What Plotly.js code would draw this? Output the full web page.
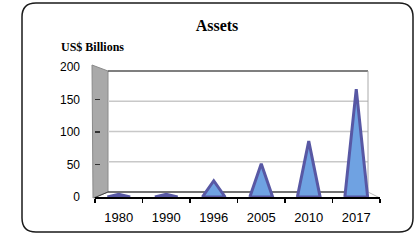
<!DOCTYPE html>
<html>
<head>
<meta charset="utf-8">
<script src="https://cdn.plot.ly/plotly-3.0.1.min.js"></script>
<style>html,body{margin:0;padding:0;background:#fff;}#chart{width:419px;height:241px;}</style>
</head>
<body>
<div id="chart"></div>
<script>
// Data
const years = ['1980', '1990', '1996', '2005', '2010', '2017'];
const assets = [4, 4, 25, 51, 86, 166];
const yTicks = [0, 50, 100, 150, 200];

// Plot-area frame in pixels (styling only)
const L = 95, R = 380, T = 67, B = 197;
const px = x => (x - L) / (R - L);
const py = y => (B - y) / (B - T);

const halfW = 0.24;
const traces = years.map((yr, i) => ({
  type: 'scatter',
  mode: 'lines',
  x: [i - halfW, i, i + halfW, i - halfW],
  y: [0, assets[i], 0, 0],
  fill: 'toself',
  fillcolor: '#6fa2e2',
  line: {color: '#5858a4', width: 3},
  hoverinfo: 'skip',
  showlegend: false
}));
// invisible trace to activate y2
traces.push({type:'scatter', x:[0], y:[0], yaxis:'y2', mode:'markers', marker:{opacity:0}, showlegend:false, hoverinfo:'skip'});

function roundRect(x0, y0, x1, y1, r) {
  const rx = r / (R - L), ry = r / (B - T);
  const a = px(x0), b = px(x1), top = py(y0), bot = py(y1);
  return `M ${a + rx},${top} L ${b - rx},${top} Q ${b},${top} ${b},${top - ry} ` +
         `L ${b},${bot + ry} Q ${b},${bot} ${b - rx},${bot} L ${a + rx},${bot} ` +
         `Q ${a},${bot} ${a},${bot + ry} L ${a},${top - ry} Q ${a},${top} ${a + rx},${top} Z`;
}

const shapes = [];
// outer rounded frame
shapes.push({type:'path', xref:'paper', yref:'paper', path: roundRect(22, 3, 413, 232, 14),
  line:{color:'#1a1a1a', width:1.5}, layer:'below'});
// left gray wall
shapes.push({type:'path', xref:'paper', yref:'paper',
  path:`M ${px(92)},${py(65)} L ${px(108)},${py(71)} L ${px(108)},${py(192)} L ${px(93)},${py(198)} Z`,
  fillcolor:'#a9a9a9', line:{color:'#8a8a8a', width:1}, layer:'below'});
// back-wall gridlines
[50, 100, 150].forEach(v => shapes.push({type:'line', xref:'paper', yref:'y2',
  x0: px(108), x1: px(368), y0: v, y1: v, line:{color:'#c8c8c8', width:1.5}, layer:'below'}));
// back-wall top line
shapes.push({type:'line', xref:'paper', yref:'y2', x0:px(108), x1:px(368), y0:200, y1:200,
  line:{color:'#555', width:1.5}, layer:'below'});
// right edge of back wall
shapes.push({type:'line', xref:'paper', yref:'y2', x0:px(368), x1:px(368), y0:0, y1:200,
  line:{color:'#aaa', width:1}, layer:'below'});
// back floor line
shapes.push({type:'line', xref:'paper', yref:'y2', x0:px(108), x1:px(368), y0:0, y1:0,
  line:{color:'#444', width:1.5}, layer:'below'});
// floor side edges
shapes.push({type:'line', xref:'paper', yref:'paper', x0:px(368), y0:py(192), x1:px(380), y1:py(198),
  line:{color:'#bbb', width:1}, layer:'below'});
shapes.push({type:'line', xref:'paper', yref:'paper', x0:px(108), y0:py(192), x1:px(94), y1:py(198),
  line:{color:'#444', width:1}, layer:'below'});

const layout = {
  width: 419, height: 241,
  margin: {l: L, r: 419 - R, t: T, b: 241 - B},
  paper_bgcolor: '#fff', plot_bgcolor: 'rgba(0,0,0,0)',
  showlegend: false,
  title: {text: '<b>Assets</b>', font: {family: 'Liberation Serif', size: 16, color: '#000'},
    xref: 'container', x: 217 / 419, xanchor: 'center', yref: 'container', y: 1 - 25 / 241, yanchor: 'middle'},
  xaxis: {
    range: [-0.5, 5.5], tickmode: 'array', tickvals: years.map((_, i) => i), ticktext: years,
    showgrid: false, zeroline: false, showline: true, linecolor: '#000', linewidth: 1.5,
    ticks: 'outside', ticklen: 4, tickcolor: 'rgba(0,0,0,0)',
    minor: {tick0: -0.5, dtick: 1, ticks: 'outside', ticklen: 4, tickcolor: '#000', tickwidth: 1.5, showgrid: false},
    tickfont: {family: 'Liberation Sans', size: 13, color: '#000'}, ticklabelstandoff: 4,
    fixedrange: true
  },
  yaxis: {
    range: [0, 200], tickmode: 'array', tickvals: yTicks,
    showgrid: false, zeroline: false, showline: false,
    ticks: 'inside', ticklen: 5, tickcolor: '#333', tickwidth: 1.5,
    tickfont: {family: 'Liberation Sans', size: 12, color: '#000'}, ticklabelstandoff: 14,
    fixedrange: true
  },
  yaxis2: {overlaying: 'y', range: [-8.3, 206.7], showgrid: false, zeroline: false,
    showticklabels: false, ticks: '', showline: false, fixedrange: true},
  shapes: shapes,
  annotations: [{text: '<b>US$ Billions</b>', xref: 'paper', yref: 'paper', x: px(59), y: py(47),
    xanchor: 'left', yanchor: 'middle', showarrow: false,
    font: {family: 'Liberation Serif', size: 12, color: '#000'}}]
};

Plotly.newPlot('chart', traces, layout, {displayModeBar: false, staticPlot: true});
</script>
</body>
</html>
